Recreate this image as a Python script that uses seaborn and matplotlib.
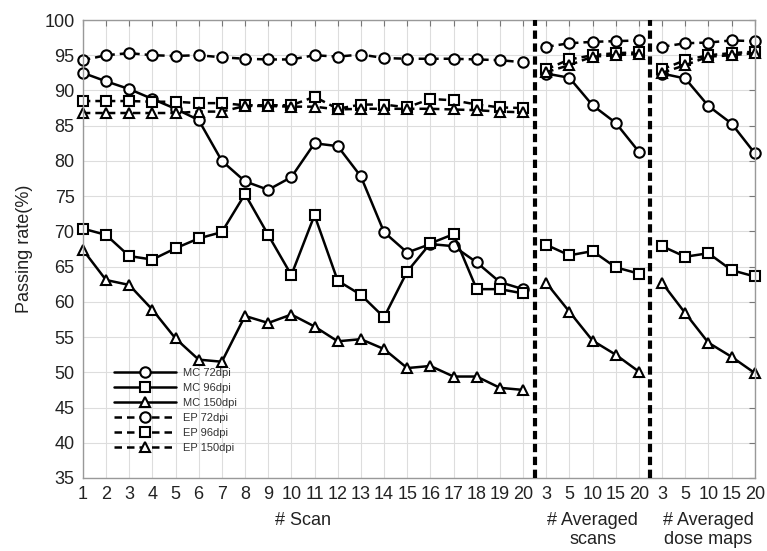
import numpy as np
import pandas as pd
import matplotlib
matplotlib.use("Agg")
import matplotlib.pyplot as plt
import seaborn as sns
from matplotlib.lines import Line2D

sns.set_theme(style="white")
plt.rcParams['font.family'] = ['Liberation Sans', 'DejaVu Sans']

# ---- data ----
tick_labels = [str(i) for i in range(1, 21)] + ["3", "5", "10", "15", "20"] + ["3", "5", "10", "15", "20"]

mc72_scan = [92.5, 91.3, 90.2, 88.8, 87.4, 85.8, 80.0, 77.1, 75.9, 77.7, 82.5, 82.1, 77.8, 69.9, 67.0, 68.2, 67.9, 65.6, 62.8, 61.8]
mc96_scan = [70.4, 69.5, 66.5, 66.0, 67.6, 69.0, 69.9, 75.3, 69.5, 63.8, 72.3, 63.0, 61.0, 57.8, 64.3, 68.3, 69.6, 61.8, 61.8, 61.2]
mc150_scan = [67.4, 63.1, 62.4, 58.9, 54.8, 51.8, 51.5, 58.0, 57.0, 58.2, 56.5, 54.4, 54.7, 53.3, 50.6, 50.9, 49.4, 49.4, 47.8, 47.5]
ep72_scan = [94.3, 95.0, 95.3, 95.0, 94.9, 95.0, 94.7, 94.5, 94.4, 94.4, 95.0, 94.8, 95.1, 94.6, 94.5, 94.5, 94.5, 94.4, 94.3, 94.0]
ep96_scan = [88.5, 88.5, 88.5, 88.4, 88.4, 88.2, 88.2, 87.9, 87.9, 87.9, 89.1, 87.4, 88.0, 88.0, 87.6, 88.8, 88.6, 88.0, 87.6, 87.5]
ep150_scan = [86.8, 86.8, 86.8, 86.8, 86.8, 87.0, 87.0, 87.8, 87.8, 87.7, 87.7, 87.3, 87.4, 87.4, 87.4, 87.4, 87.3, 87.2, 87.0, 86.9]

mc72_avg = [92.4, 91.8, 87.9, 85.4, 81.3]
mc96_avg = [68.1, 66.6, 67.2, 64.9, 64.0]
mc150_avg = [62.7, 58.6, 54.5, 52.5, 50.1]
ep72_avg = [96.2, 96.7, 96.9, 97.0, 97.1]
ep96_avg = [93.0, 94.4, 95.0, 95.3, 95.4]
ep150_avg = [92.6, 93.6, 94.8, 95.0, 95.2]

mc72_dose = [92.4, 91.7, 87.8, 85.3, 81.1]
mc96_dose = [67.9, 66.4, 66.9, 64.5, 63.6]
mc150_dose = [62.7, 58.4, 54.2, 52.2, 49.9]
ep72_dose = [96.2, 96.7, 96.8, 97.1, 97.0]
ep96_dose = [93.0, 94.3, 95.0, 95.3, 95.5]
ep150_dose = [92.5, 93.6, 94.8, 95.0, 95.3]

series = [
    ("MC 72dpi", [mc72_scan, mc72_avg, mc72_dose], "o", "-"),
    ("MC 96dpi", [mc96_scan, mc96_avg, mc96_dose], "s", "-"),
    ("MC 150dpi", [mc150_scan, mc150_avg, mc150_dose], "^", "-"),
    ("EP 72dpi", [ep72_scan, ep72_avg, ep72_dose], "o", (0, (3, 2))),
    ("EP 96dpi", [ep96_scan, ep96_avg, ep96_dose], "s", (0, (3, 2))),
    ("EP 150dpi", [ep150_scan, ep150_avg, ep150_dose], "^", (0, (3, 2))),
]
seg_x = [np.arange(1, 21), np.arange(21, 26), np.arange(26, 31)]

fig = plt.figure(figsize=(7.67, 5.51), dpi=100)
ax = fig.add_axes([0.108, 0.1325, 0.876, 0.8312])

lw = 1.8
ms = 7.5
handles = []
for name, segs, mk, ls in series:
    for xs, ys in zip(seg_x, segs):
        df = pd.DataFrame({"x": xs, "y": ys})
        sns.lineplot(data=df, x="x", y="y", ax=ax, color="black", linewidth=lw,
                     linestyle=ls, marker=mk, markersize=ms, markerfacecolor="white",
                     markeredgecolor="black", markeredgewidth=1.5, legend=False,
                     clip_on=False)
    handles.append(Line2D([], [], color="black", lw=lw, linestyle=ls, marker=mk,
                          markersize=ms, markerfacecolor="white", markeredgecolor="black",
                          markeredgewidth=1.5, label=name))

for xv in (20.5, 25.5):
    ax.axvline(xv, color="black", lw=3, linestyle=(0, (2, 1.1)), zorder=5)

ax.set_xlim(1, 30)
ax.set_ylim(35, 100)
ax.set_xticks(np.arange(1, 31))
ax.set_xticklabels(tick_labels)
ax.set_yticks(np.arange(35, 101, 5))
ax.tick_params(axis="both", direction="in", length=4, width=0.8, color="#777777",
               labelsize=13, top=True, right=True, pad=6, labelcolor="#222222")
ax.grid(True, color="#dddddd", linewidth=0.8)
ax.set_axisbelow(True)
for sp in ax.spines.values():
    sp.set_color("#999999")
    sp.set_linewidth(1.0)

ax.set_xlabel("")
ax.set_ylabel("Passing rate(%)", fontsize=13, color="#222222", labelpad=8)

trans = ax.get_xaxis_transform()
ax.text(10.5, -0.075, "# Scan", transform=trans, ha="center", va="top", fontsize=13, color="#222222")
ax.text(23, -0.075, "# Averaged\nscans", transform=trans, ha="center", va="top", fontsize=13,
        color="#222222", linespacing=1.1)
ax.text(28, -0.075, "# Averaged\ndose maps", transform=trans, ha="center", va="top", fontsize=13,
        color="#222222", linespacing=1.1)

leg = ax.legend(handles=handles, loc="upper left", bbox_to_anchor=(0.035, 0.257),
                frameon=False, fontsize=8, handlelength=5.6, numpoints=1,
                labelspacing=0.44, handletextpad=0.6, borderpad=0.2)
for t in leg.get_texts():
    t.set_color("#333333")

fig.savefig("out.png", dpi=100)
